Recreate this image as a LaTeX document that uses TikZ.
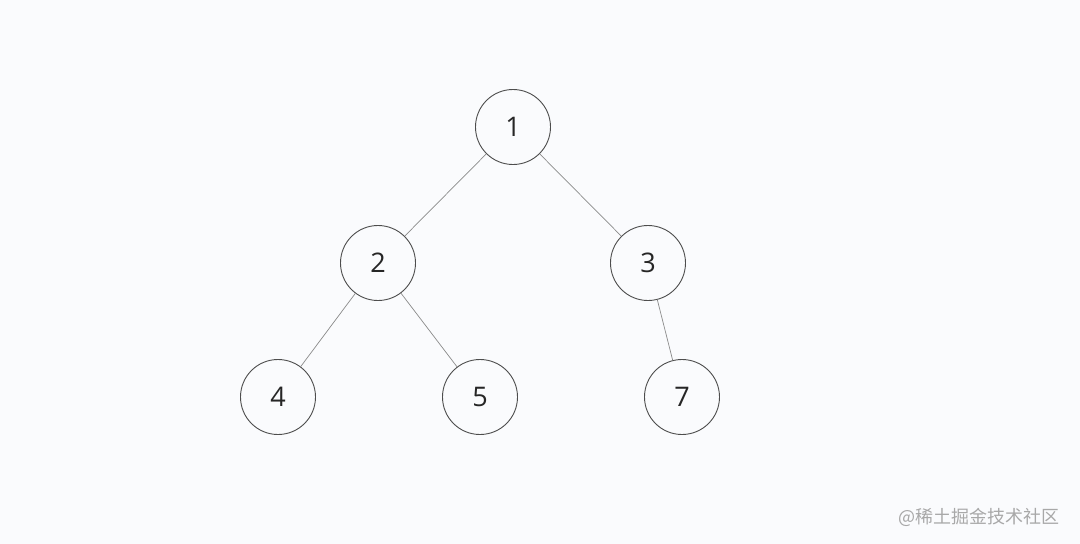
\documentclass[tikz,border=0pt]{standalone}
\usepackage{fontspec}
\setmainfont{Open Sans}
\newfontfamily\cjk{Noto Sans CJK SC}
\usepackage{tikz}
\usetikzlibrary{calc}

\definecolor{bgcol}{HTML}{FAFBFD}
\definecolor{ringcol}{HTML}{4D4D4D}
\definecolor{edgecol}{HTML}{8A8A8A}
\definecolor{markcol}{HTML}{A8A8A8}

\begin{document}
\begin{tikzpicture}[x=1pt, y=-1pt,
    treenode/.style={circle, draw=ringcol, line width=0.9pt, minimum size=75pt,
      inner sep=0pt, font=\fontsize{27}{30}\selectfont, text=black!85},
    treeedge/.style={draw=edgecol, line width=0.7pt}]
        % Background
        \fill[bgcol] (0,0) rectangle (1080,544);
        \useasboundingbox (0,0) rectangle (1080,544);

        % Nodes
        \node[treenode] (n1) at (513,127) {1};
        \node[treenode] (n2) at (378,263) {2};
        \node[treenode] (n3) at (648,263) {3};
        \node[treenode] (n4) at (278,397) {4};
        \node[treenode] (n5) at (480,397) {5};
        \node[treenode] (n7) at (682,397) {7};

        % Edges
        \draw[treeedge] (n1) -- (n2);
        \draw[treeedge] (n1) -- (n3);
        \draw[treeedge] (n2) -- (n4);
        \draw[treeedge] (n2) -- (n5);
        \draw[treeedge] (n3) -- (n7);

        % Watermark
        \node[anchor=east, text=markcol, font=\cjk\fontsize{18}{20}\selectfont]
          (mark) at (1063,517) {@稀土掘金技术社区};
      \end{tikzpicture}
\end{document}
